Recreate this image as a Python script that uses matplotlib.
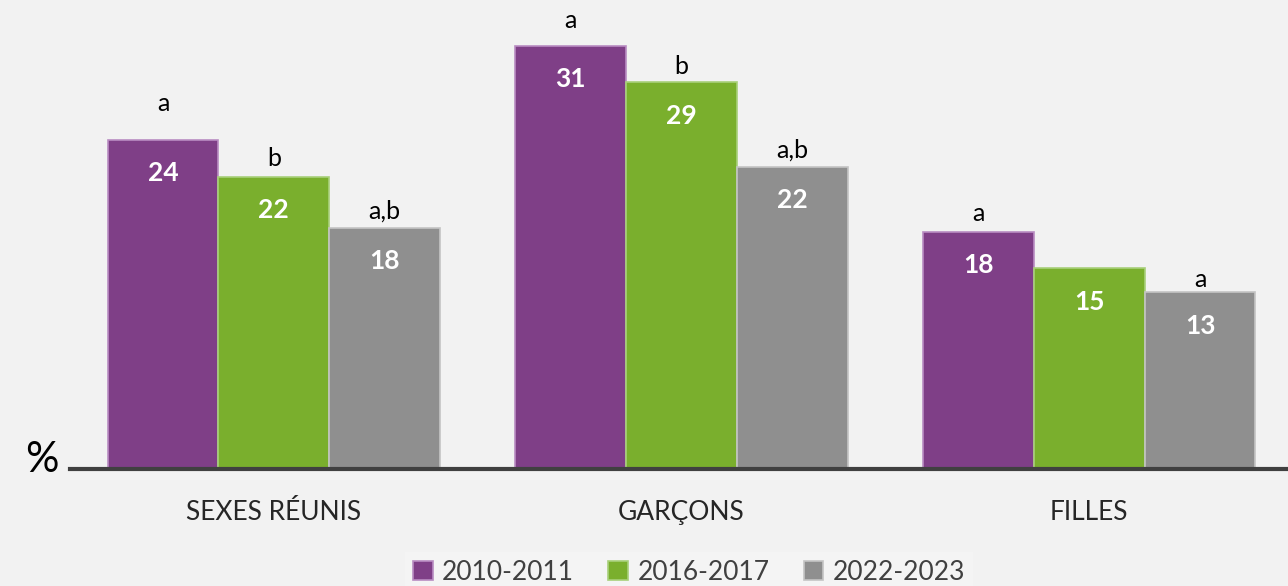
import matplotlib.pyplot as plt
import numpy as np

plt.rcParams['font.family'] = ['Lato', 'DejaVu Sans']

categories = ['SEXES RÉUNIS', 'GARÇONS', 'FILLES']
series = ['2010-2011', '2016-2017', '2022-2023']
values_2010 = [24.4, 31.4, 17.6]
values_2016 = [21.7, 28.7, 14.9]
values_2022 = [17.9, 22.4, 13.1]
letters_2010 = ['a', 'a', 'a']
letters_2016 = ['b', 'b', '']
letters_2022 = ['a,b', 'a,b', 'a']

colors = ['#7f3f87', '#7aaf2d', '#8f8f8f']
edges = ['#b98cc2', '#a8d07a', '#c4c4c4']
bg = '#f2f2f2'

fig = plt.figure(figsize=(12.88, 5.86), dpi=100, facecolor=bg)
ax = fig.add_axes([70 / 1288, 117 / 586, 1223 / 1288, 469 / 586])
ax.set_facecolor(bg)

x = np.arange(len(categories))
w = 0.272
all_vals = [values_2010, values_2016, values_2022]
all_letters = [letters_2010, letters_2016, letters_2022]
# extra gap (points) for the significance letters, per series/category
letter_pad = [[18, 10, 5], [5, 3, None], [4, 4, 1]]

handles = []
for i, (vals, lets) in enumerate(zip(all_vals, all_letters)):
	pos = x + (i - 1) * w
	b = ax.bar(pos, vals, width=w, color=colors[i], edgecolor=edges[i],
			   linewidth=1.2, label=series[i], zorder=2)
	handles.append(b)
	for j, (p, v, l) in enumerate(zip(pos, vals, lets)):
		ax.annotate(str(round(v)), (p, v), xytext=(0, -24), textcoords='offset points',
					ha='center', va='center', color='white', fontsize=19, fontweight='bold')
		if l:
			ax.annotate(l, (p, v), xytext=(0, letter_pad[i][j]), textcoords='offset points',
						ha='center', va='bottom', color='black', fontsize=18)

ax.set_xlim(-0.5, 2.5)
ax.set_ylim(0, 34.8)
for s in ['top', 'right', 'left']:
	ax.spines[s].set_visible(False)
ax.spines['bottom'].set_color('#404040')
ax.spines['bottom'].set_linewidth(3)
ax.set_yticks([])
ax.set_xticks(x)
ax.set_xticklabels(categories, fontsize=19, color='#262626')
ax.tick_params(axis='x', length=0, pad=22)

fig.text(42 / 1288, 1 - 460 / 586, '%', fontsize=30, ha='center', va='center', color='black')

leg = fig.legend(handles=handles, loc='center', bbox_to_anchor=(689 / 1288, 1 - 572 / 586),
				 ncol=3, fontsize=19, frameon=True, facecolor='#f5f5f5', edgecolor='none',
				 handlelength=0.75, handleheight=0.75, handletextpad=0.35, columnspacing=1.3,
				 borderpad=0.3)
for t in leg.get_texts():
	t.set_color('#404040')
leg.get_frame().set_boxstyle('square', pad=0)

fig.savefig('out.png', dpi=100, facecolor=bg)
